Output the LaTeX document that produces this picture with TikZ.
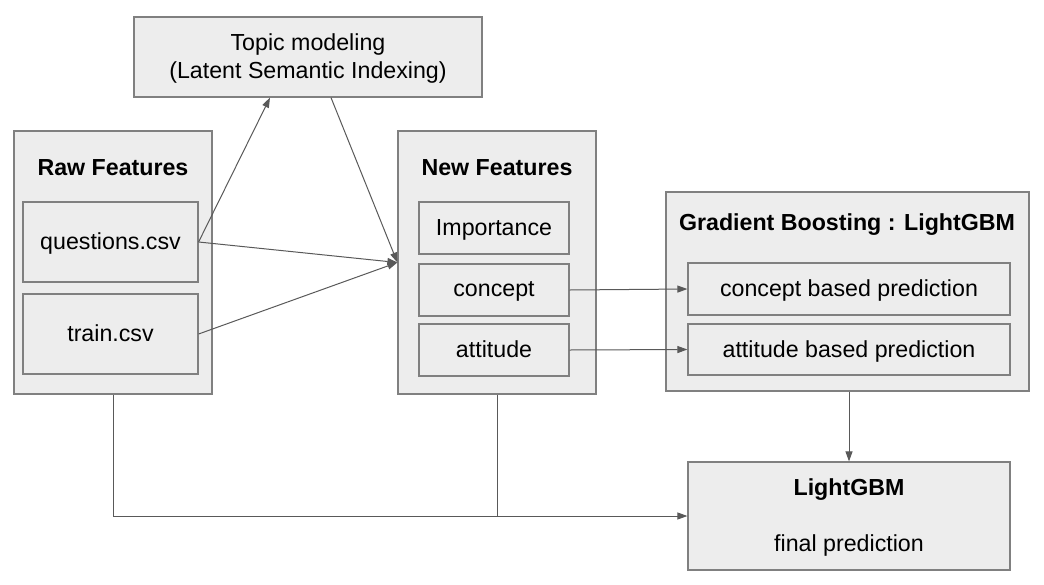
\documentclass[tikz,border=0pt]{standalone}
\usepackage{fontspec}
\setmainfont{Liberation Sans}
\usetikzlibrary{arrows.meta}

\tikzset{
  box/.style={draw=black!50, fill=black!7, line width=1.2pt, inner sep=0pt, text depth=0.12em},
  arr/.style={draw=black!65, line width=1pt, -{Triangle[length=10pt,width=7pt]}},
  link/.style={draw=black!65, line width=1pt}
}

\begin{document}
\begin{tikzpicture}[x=1pt,y=-1pt,font=\fontsize{23.2}{28}\selectfont]

        \useasboundingbox (0,0) rectangle (1044,584);

        % outer boxes
        \begin{scope}[every node/.style={box}]
          \node (raw)   at (113,262.5)  [minimum width=198pt,minimum height=263pt] {};
          \node (nf)    at (497,262.5)  [minimum width=198pt,minimum height=263pt] {};
          \node (gb)    at (847.5,291.5) [minimum width=363pt,minimum height=199pt] {};
          \node (topic) at (308,57)     [minimum width=348pt,minimum height=80pt,align=center] {Topic modeling\\(Latent Semantic Indexing)};
          \node (lgbm)  at (849,516)    [minimum width=322pt,minimum height=108pt] {};
        \end{scope}

        % titles
        \begin{scope}[every node/.style={font=\fontsize{23.2}{28}\selectfont\bfseries}]
          \node (rawt) at (113,168) {Raw Features};
          \node (nft)  at (497,168) {New Features};
          \node (gbt)  at (847,225) {Gradient Boosting : LightGBM};
          \node (lgbt) at (849,490) {LightGBM};
        \end{scope}
        \node (fp) at (849,545) {final prediction};

        % inner boxes
        \begin{scope}[every node/.style={box}]
          \node (quest)  at (110.5,242) [minimum width=175pt,minimum height=80pt] {questions.csv};
          \node (train)  at (110.5,334) [minimum width=175pt,minimum height=80pt] {train.csv};
          \node (imp)    at (494,228)   [minimum width=150pt,minimum height=52pt] {Importance};
          \node (conc)   at (494,290)   [minimum width=150pt,minimum height=52pt] {concept};
          \node (att)    at (494,350)   [minimum width=150pt,minimum height=52pt] {attitude};
          \node (concp)  at (849,289)   [minimum width=322pt,minimum height=52pt] {concept based prediction};
          \node (attp)   at (849,349.5) [minimum width=322pt,minimum height=51pt] {attitude based prediction};
        \end{scope}

        \path[arr] (quest.east) -- ([xshift=-38pt]topic.south);
        \path[arr] ([xshift=23pt]topic.south) -- (nf.west);
        \path[arr] (quest.east) -- (nf.west);
        \path[arr] (train.east) -- (nf.west);
        \path[arr] (conc.east) -- (concp.west);
        \path[arr] (att.east) -- (attp.west);
        \path[arr] (gb.south -| lgbm.north) -- (lgbm.north);
        \path[arr] (raw.south) |- (lgbm.west);
        \path[link] (nf.south) -- (nf.south |- lgbm.west);

      \end{tikzpicture}
\end{document}
